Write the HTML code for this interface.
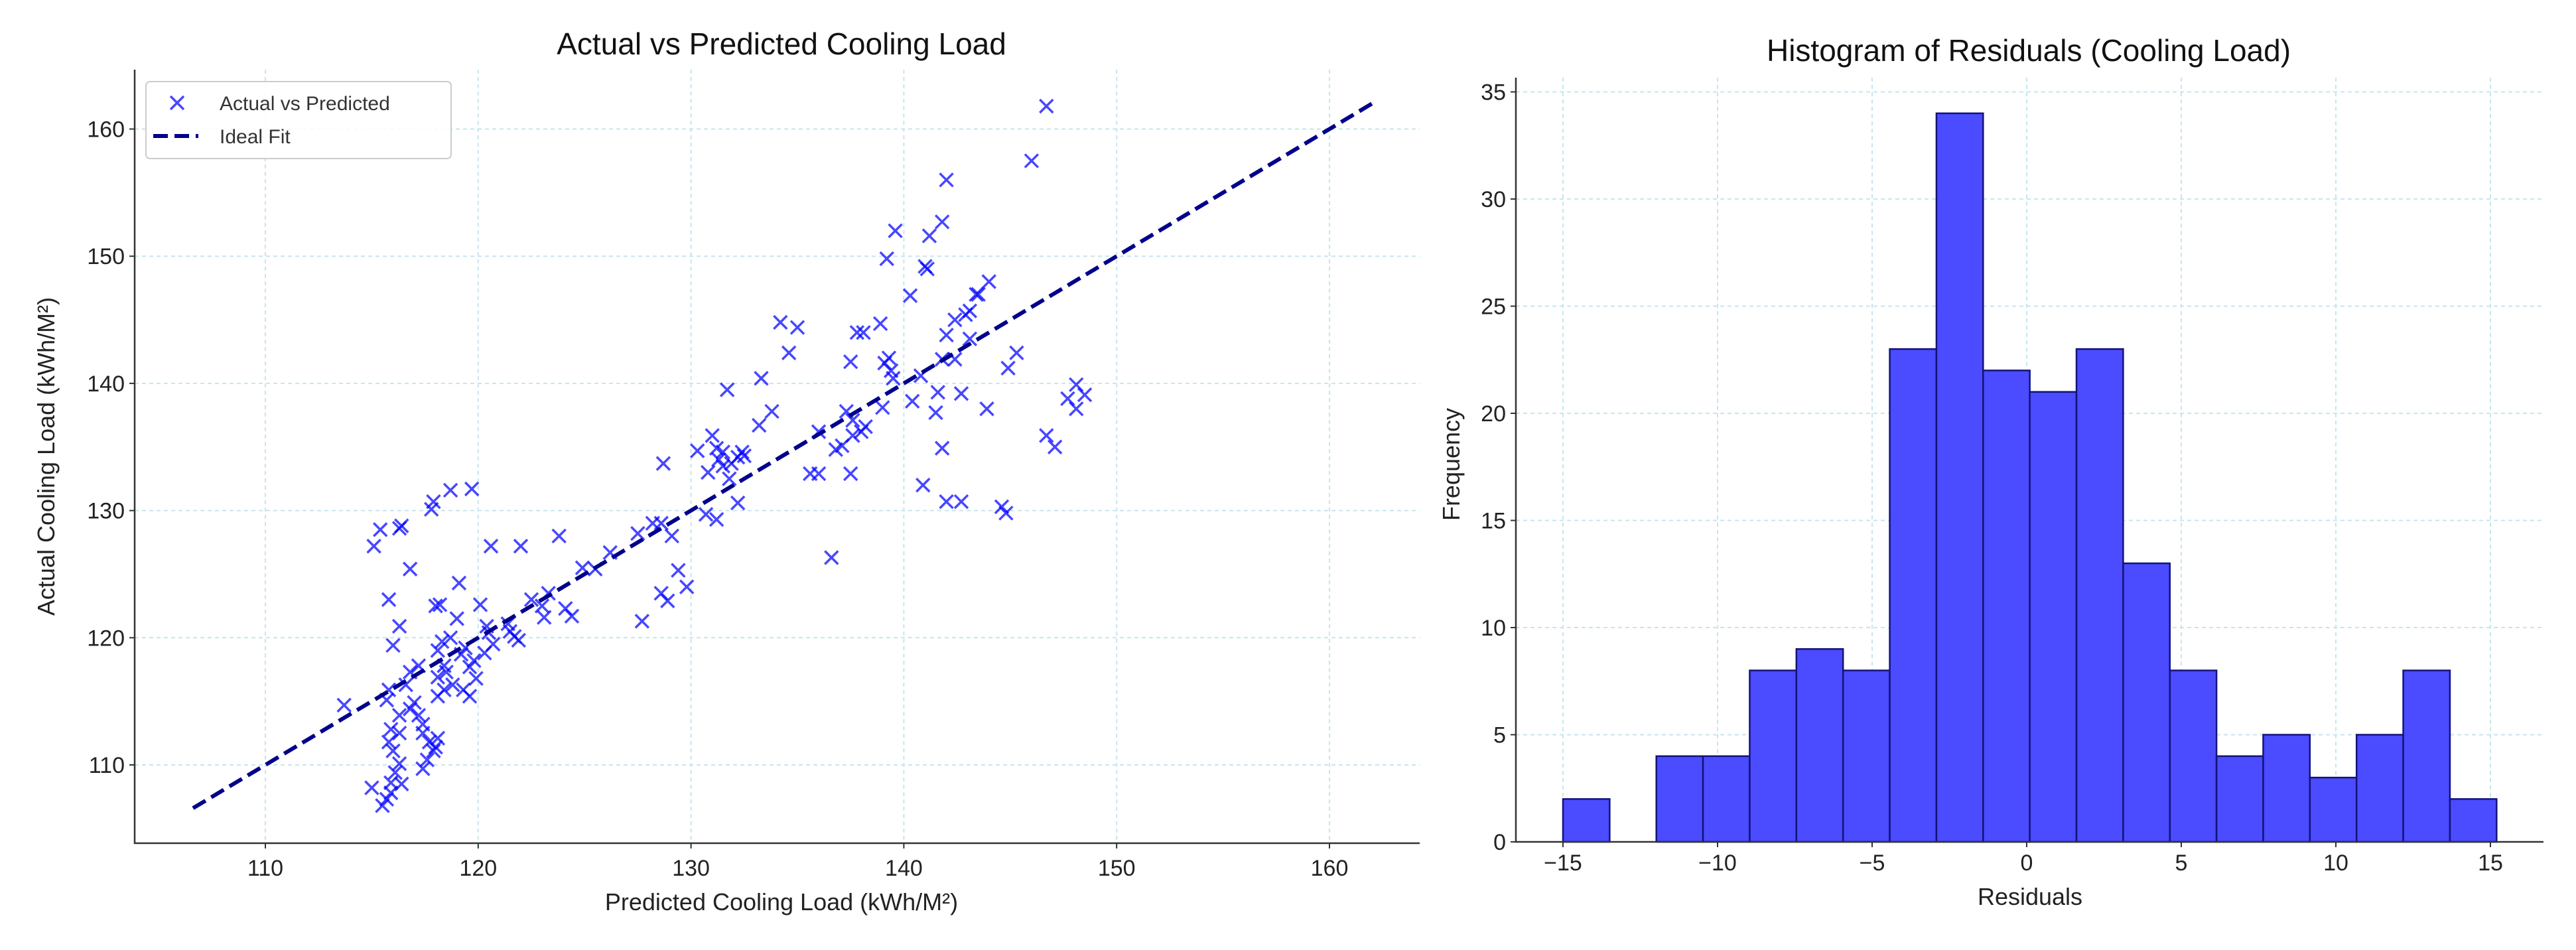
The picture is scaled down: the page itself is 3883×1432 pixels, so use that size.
<!DOCTYPE html>
<html><head><meta charset="utf-8"><style>
html,body{margin:0;padding:0;background:#fff;}
svg{display:block;font-family:"Liberation Sans","DejaVu Sans",sans-serif;}
</style></head><body>
<svg id="chart" width="3883" height="1432" viewBox="0 0 3883 1432" xmlns="http://www.w3.org/2000/svg">
<g id="left"></g>
<g id="right"></g>
</svg>
<script>
const predX = [146.7,146,142,141.8,139.6,141.2,139.2,141,141.1,140.3,144,143.5,143.4,143.1,142.9,142.4,143.1,142,142.4,141.8,145.3,144.9,134.2,135,134.6,138.9,137.8,138.1,137.5,139.1,139.3,139.4,139.5,140.8,133.3,131.7,141.6,142.7,140.4,141.5,143.9,148.1,147.7,148.5,148.1,139,133.8,133.2,136,136.8,137.1,137.6,138,138.2,137.6,137.3,135.6,136,137.5,146.7,147.1,141.8,140.9,142,142.7,144.6,144.8,136.6,131,131.2,131.3,131.5,131.9,132.2,132.5,132.4,131.5,131.8,132.2,130.8,130.7,131.2,130.3,128.7,129.1,128.6,128.2,127.5,127.7,129.4,129.8,128.9,128.6,126.2,124.9,125.5,123.8,123.3,123,124.1,124.4,123.1,122.5,122,120.6,120.1,120.4,120.5,120.7,120.3,119.8,119.6,119.9,121.4,121.7,121.9,121.5,119.7,118.7,117.9,117.8,119.1,116.8,115.1,115.4,116.3,116.4,115.8,116.3,116,118,118.2,118.3,118.1,118.7,119,119.4,119.2,118.4,118.5,118.1,118.8,119.3,119.6,118.4,118.1,116.8,116.6,117.2,113.7,115.8,115.7,116.3,116.8,117,117.2,117.4,115.9,115.8,116,116.3,117.4,117.7,117.9,117.6,118.1,118,117.4,116.3,116.1,115.9,116.4,115,115.5,115.7,115.9];
const actualY = [161.8,157.5,156,152.7,152,151.6,149.8,149.2,149,146.9,148,147,147,145.7,145.4,145,143.5,143.8,141.9,141.9,142.4,141.2,144.8,144.4,142.4,144.7,144,144,141.7,141.6,142,141,140.4,140.6,140.4,139.5,139.3,139.2,138.6,137.7,138,139.9,138.8,139.1,138,138.1,137.8,136.7,136.2,134.8,135.1,135.9,136.2,136.6,137.1,137.8,132.9,132.9,132.9,135.9,135,134.9,132,130.7,130.7,130.3,129.8,126.3,135.9,134.9,134,133.5,133.7,134.2,134.3,134.6,134.6,132.5,130.6,133,129.7,129.3,134.7,133.7,128,129,129,128.2,121.3,125.3,124,122.9,123.5,126.7,125.5,125.4,128,123.5,122.5,122.3,121.7,121.6,123,127.2,127.2,122.6,120.9,120.4,119.5,118.8,118.2,117.7,116.8,121.1,120.1,119.8,120.5,131.7,131.6,130.7,130.1,124.3,125.4,127.2,128.5,128.6,128.8,123,120.9,119.4,122.5,122.6,119.7,119,120,121.5,119.2,118.7,117.8,117.3,116.9,116.3,115.9,115.4,115.9,115.4,117.3,116.3,117.8,114.7,115.9,115.1,113.9,114.4,114.9,113.9,113.2,112.8,111.8,111.1,112.5,112.5,111.8,111.1,110.4,112.1,111.4,109.7,110.1,109.4,108.6,108.5,108.2,106.8,107.3,107.8];
const idealFit = [106.6, 162];
const scatterTicks = [110,120,130,140,150,160];

const histCounts = [2,0,4,4,8,9,8,23,34,22,21,23,13,8,4,5,3,5,8,2];
const histMin = [-15];
const histMax = [15.2];
const histXTicks = [-15,-10,-5,0,5,10,15];
const histYTicks = [0,5,10,15,20,25,30,35];

const NS="http://www.w3.org/2000/svg";
function mk(parent,tag,attrs,text){const e=document.createElementNS(NS,tag);for(const k in attrs)e.setAttribute(k,attrs[k]);if(text!==undefined)e.textContent=text;parent.appendChild(e);return e;}

// ---------- scatter ----------
const L=document.getElementById('left');
const lx=v=>400+(v-110)*32.08;
const ly=v=>1153-(v-110)*19.17;
const LAX={x0:203,x1:2140,y0:105,y1:1271};
scatterTicks.forEach(t=>{
  const g1=mk(L,'line',{x1:lx(t),x2:lx(t),y1:LAX.y0,y2:LAX.y1,stroke:'#c6e6ee','stroke-width':2,'stroke-dasharray':'6,5'});
  
  
  const g2=mk(L,'line',{x1:LAX.x0,x2:LAX.x1,y1:ly(t),y2:ly(t),stroke:'#c6e6ee','stroke-width':2,'stroke-dasharray':'6,5'});
  
  
  const tx=mk(L,'text',{x:lx(t),y:1320,'font-size':34,'text-anchor':'middle',fill:'#222'},String(t));
  
  
  mk(L,'line',{x1:lx(t),x2:lx(t),y1:LAX.y1,y2:LAX.y1+8,stroke:'#333','stroke-width':2});
  const ty=mk(L,'text',{x:188,y:ly(t)+12,'font-size':34,'text-anchor':'end',fill:'#222'},String(t));
  
  
  mk(L,'line',{x1:LAX.x0-8,x2:LAX.x0,y1:ly(t),y2:ly(t),stroke:'#333','stroke-width':2});
});
predX.forEach((x,i)=>{
  const cx=lx(x),cy=ly(actualY[i]),s=10;
  const m=mk(L,'path',{d:`M${cx-s},${cy-s}L${cx+s},${cy+s}M${cx-s},${cy+s}L${cx+s},${cy-s}`,stroke:'#0000ff','stroke-opacity':0.72,'stroke-width':3.5,fill:'none'});
  
  
});
const fit=mk(L,'line',{x1:lx(idealFit[0]),y1:ly(idealFit[0]),x2:lx(idealFit[1]),y2:ly(idealFit[1]),stroke:'#00008b','stroke-width':6,'stroke-dasharray':'22,10'});


mk(L,'path',{d:`M${LAX.x0},${LAX.y0}V${LAX.y1}H${LAX.x1}`,stroke:'#333',fill:'none','stroke-width':2.5});
const lt=mk(L,'text',{x:1178,y:82,'font-size':46,'text-anchor':'middle',fill:'#111'},'Actual vs Predicted Cooling Load');


const lxl=mk(L,'text',{x:1178,y:1372,'font-size':36,'text-anchor':'middle',fill:'#222'},'Predicted Cooling Load (kWh/M²)');


const lyl=mk(L,'text',{x:0,y:0,'font-size':36,'text-anchor':'middle',fill:'#222',transform:'translate(82,688) rotate(-90)'},'Actual Cooling Load (kWh/M²)');


// legend
const lg=mk(L,'g',{});


mk(lg,'rect',{x:220,y:123,width:460,height:116,rx:6,fill:'#fff','fill-opacity':0.85,stroke:'#ccc','stroke-width':2});
mk(lg,'path',{d:'M257,145L277,165M257,165L277,145',stroke:'#0000ff','stroke-opacity':0.72,'stroke-width':3.5});
const le1=mk(lg,'text',{x:331,y:166,'font-size':30,fill:'#333'},'Actual vs Predicted');


mk(lg,'line',{x1:231,x2:299,y1:205,y2:205,stroke:'#00008b','stroke-width':6,'stroke-dasharray':'22,10'});
const le2=mk(lg,'text',{x:331,y:216,'font-size':30,fill:'#333'},'Ideal Fit');



// ---------- histogram ----------
const R=document.getElementById('right');
const hx=v=>2356+(v+15)*46.6;
const hy=v=>1269-v*32.3;
const RAX={x0:2285,x1:3834,y0:117,y1:1269};
histXTicks.forEach(t=>{
  const g=mk(R,'line',{x1:hx(t),x2:hx(t),y1:RAX.y0,y2:RAX.y1,stroke:'#c6e6ee','stroke-width':2,'stroke-dasharray':'6,5'});
  
  
  const tx=mk(R,'text',{x:hx(t),y:1312,'font-size':34,'text-anchor':'middle',fill:'#222'},t<0?'\u2212'+Math.abs(t):String(t));
  
  
  mk(R,'line',{x1:hx(t),x2:hx(t),y1:RAX.y1,y2:RAX.y1+8,stroke:'#333','stroke-width':2});
});
histYTicks.forEach(t=>{
  const g=mk(R,'line',{x1:RAX.x0,x2:RAX.x1,y1:hy(t),y2:hy(t),stroke:'#c6e6ee','stroke-width':2,'stroke-dasharray':'6,5'});
  
  
  const ty=mk(R,'text',{x:2270,y:hy(t)+12,'font-size':34,'text-anchor':'end',fill:'#222'},String(t));
  
  
  mk(R,'line',{x1:RAX.x0-8,x2:RAX.x0,y1:hy(t),y2:hy(t),stroke:'#333','stroke-width':2});
});
const bw=(histMax[0]-histMin[0])/histCounts.length;
histCounts.forEach((c,i)=>{
  if(c<=0)return;
  const a=histMin[0]+i*bw,b=a+bw;
  const r=mk(R,'rect',{x:hx(a),y:hy(c),width:hx(b)-hx(a),height:hy(0)-hy(c),fill:'#4b4bff',stroke:'#13137a','stroke-width':2.5});
  
  
});
mk(R,'path',{d:`M${RAX.x0},${RAX.y0}V${RAX.y1}H${RAX.x1}`,stroke:'#333',fill:'none','stroke-width':2.5});
const rt=mk(R,'text',{x:3058,y:92,'font-size':46,'text-anchor':'middle',fill:'#111'},'Histogram of Residuals (Cooling Load)');


const rxl=mk(R,'text',{x:3060,y:1364,'font-size':36,'text-anchor':'middle',fill:'#222'},'Residuals');


const ryl=mk(R,'text',{x:0,y:0,'font-size':36,'text-anchor':'middle',fill:'#222',transform:'translate(2200,700) rotate(-90)'},'Frequency');


</script>
</body></html>
